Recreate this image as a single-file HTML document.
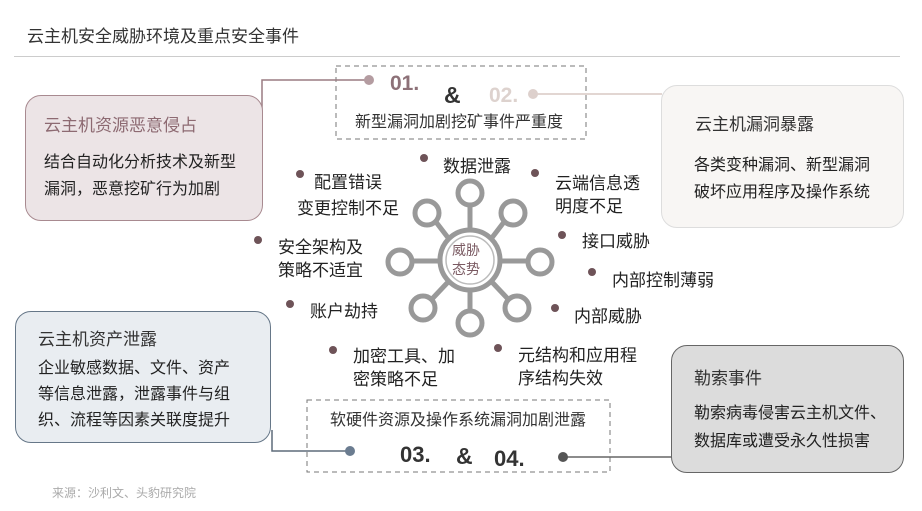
<!DOCTYPE html>
<html><head><meta charset="utf-8"><style>
body{margin:0;width:922px;height:511px;background:#fff;position:relative;overflow:hidden;font-family:"Liberation Sans","Noto Sans CJK SC",sans-serif;color:#222}
.a{position:absolute;white-space:nowrap}
.box{position:absolute;border-radius:16px;box-sizing:border-box}
.t{font-size:17px;line-height:22px}
.dot{position:absolute;width:8px;height:8px;border-radius:50%;background:#6e5358}
</style></head><body>
<div class="a" style="left:27px;top:22px;font-size:17px;color:#333">云主机安全威胁环境及重点安全事件</div>
<div class="a" style="left:14px;top:56px;width:886px;height:1px;background:#ccc"></div>

<svg class="a" style="left:0;top:0" width="922" height="511">
<rect x="336" y="66" width="250" height="73" fill="none" stroke="#777" stroke-dasharray="5,4"/>
<rect x="307" y="400" width="303" height="72" fill="none" stroke="#777" stroke-dasharray="5,4"/>
<polyline points="262,120 262,80 369,80" fill="none" stroke="#9a7c82" stroke-width="1.5"/>
<circle cx="369" cy="80" r="5" fill="#b49ca1"/>
<line x1="533" y1="94" x2="662" y2="94" stroke="#d8c8c4" stroke-width="1.5"/>
<circle cx="533" cy="94" r="5" fill="#ddd0cc"/>
<polyline points="272,430 272,451 350,451" fill="none" stroke="#5e6c7a" stroke-width="1.5"/>
<circle cx="350" cy="451" r="5" fill="#6b7c90"/>
<line x1="563" y1="457" x2="672" y2="457" stroke="#666" stroke-width="1.5"/>
<circle cx="563" cy="457" r="5" fill="#555"/>
<g stroke="#999" fill="none">
<circle cx="470" cy="260" r="30" stroke-width="5"/>
<circle cx="470" cy="260" r="24" stroke-width="1.5" stroke="#bbb"/>
<g stroke-width="5">
<line x1="470" y1="230" x2="470" y2="206"/><circle cx="470" cy="193" r="12"/>
<line x1="470" y1="290" x2="470" y2="310"/><circle cx="470" cy="323" r="12"/>
<line x1="440" y1="261" x2="413" y2="261"/><circle cx="400" cy="262" r="12"/>
<line x1="500" y1="261" x2="527" y2="261"/><circle cx="540" cy="262" r="12"/>
<line x1="449" y1="239" x2="436" y2="222"/><circle cx="427" cy="213" r="12"/>
<line x1="491" y1="239" x2="504" y2="222"/><circle cx="513" cy="213" r="12"/>
<line x1="449" y1="281" x2="432" y2="299"/><circle cx="423" cy="308" r="12"/>
<line x1="491" y1="281" x2="508" y2="299"/><circle cx="517" cy="308" r="12"/>
</g></g>
</svg>
<div class="a" style="left:452px;top:241px;font-size:14px;line-height:19px;color:#7a5a62;text-align:center">威胁<br>态势</div>

<div class="a" style="left:390px;top:72px;font-size:21px;font-weight:bold;color:#8d7178">01.</div>
<div class="a" style="left:444px;top:82px;font-size:23px;font-weight:bold;color:#333">&amp;</div>
<div class="a" style="left:489px;top:84px;font-size:21px;font-weight:bold;color:#ddd2ce">02.</div>
<div class="a t" style="left:355px;top:112px;font-size:16px;color:#333">新型漏洞加剧挖矿事件严重度</div>

<div class="a t" style="left:330px;top:410px;font-size:16px;color:#333">软硬件资源及操作系统漏洞加剧泄露</div>
<div class="a" style="left:400px;top:442px;font-size:22px;font-weight:bold;color:#333">03.</div>
<div class="a" style="left:456px;top:443px;font-size:23px;font-weight:bold;color:#333">&amp;</div>
<div class="a" style="left:494px;top:446px;font-size:22px;font-weight:bold;color:#333">04.</div>

<div class="box" style="left:25px;top:95px;width:238px;height:126px;background:#ece4e6;border:1.5px solid #a88a90">
<div class="a" style="left:18px;top:15px;font-size:17px;color:#8d6a72">云主机资源恶意侵占</div>
<div class="a t" style="left:18px;top:53px;line-height:27px;font-size:16px">结合自动化分析技术及新型<br>漏洞，恶意挖矿行为加剧</div></div>

<div class="box" style="left:661px;top:85px;width:243px;height:143px;background:#f8f6f4;border:1.5px solid #ddd">
<div class="a" style="left:33px;top:24px;font-size:17px;color:#333">云主机漏洞暴露</div>
<div class="a t" style="left:32px;top:66px;line-height:27px;font-size:16px">各类变种漏洞、新型漏洞<br>破坏应用程序及操作系统</div></div>

<div class="box" style="left:15px;top:311px;width:256px;height:132px;background:#e9edf1;border:1.5px solid #667788">
<div class="a" style="left:22px;top:13px;font-size:17px;color:#333">云主机资产泄露</div>
<div class="a t" style="left:22px;top:44px;line-height:26px;font-size:16px">企业敏感数据、文件、资产<br>等信息泄露，泄露事件与组<br>织、流程等因素关联度提升</div></div>

<div class="box" style="left:671px;top:345px;width:233px;height:128px;background:#dcdcdc;border:1.5px solid #666">
<div class="a" style="left:22px;top:18px;font-size:17px;color:#333">勒索事件</div>
<div class="a t" style="left:22px;top:54px;line-height:28px;font-size:16px">勒索病毒侵害云主机文件、<br>数据库或遭受永久性损害</div></div>

<div class="dot" style="left:296px;top:170px"></div><div class="a t" style="left:295px;top:170px;line-height:26px;text-align:center;width:106px">配置错误<br>变更控制不足</div>
<div class="dot" style="left:420px;top:154px"></div><div class="a t" style="left:443px;top:156px">数据泄露</div>
<div class="dot" style="left:531px;top:169px"></div><div class="a t" style="left:555px;top:172px;line-height:23px">云端信息透<br>明度不足</div>
<div class="dot" style="left:254px;top:236px"></div><div class="a t" style="left:278px;top:236px;line-height:23px">安全架构及<br>策略不适宜</div>
<div class="dot" style="left:558px;top:231px"></div><div class="a t" style="left:582px;top:231px">接口威胁</div>
<div class="dot" style="left:588px;top:268px"></div><div class="a t" style="left:612px;top:270px">内部控制薄弱</div>
<div class="dot" style="left:286px;top:300px"></div><div class="a t" style="left:310px;top:301px">账户劫持</div>
<div class="dot" style="left:551px;top:304px"></div><div class="a t" style="left:574px;top:306px">内部威胁</div>
<div class="dot" style="left:329px;top:346px"></div><div class="a t" style="left:353px;top:345px;line-height:23px">加密工具、加<br>密策略不足</div>
<div class="dot" style="left:494px;top:344px"></div><div class="a t" style="left:518px;top:344px;line-height:23px">元结构和应用程<br>序结构失效</div>

<div class="a" style="left:52px;top:484px;font-size:12px;color:#aaa">来源：沙利文、头豹研究院</div>
</body></html>
